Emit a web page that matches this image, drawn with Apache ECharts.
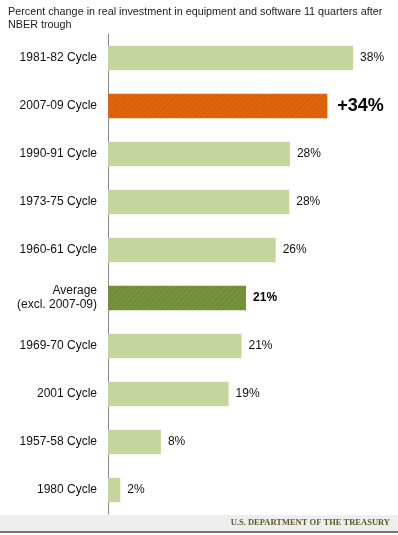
<!DOCTYPE html>
<html>
<head>
<meta charset="utf-8">
<script src="https://cdn.jsdelivr.net/npm/echarts@6/dist/echarts.min.js"></script>
<style>
  html, body { margin: 0; padding: 0; background: #fff; }
  #main { width: 398px; height: 535px; }
</style>
</head>
<body>
<div id="main"></div>
<script>
// data (top to bottom)
var cycles = ['1981-82 Cycle', '2007-09 Cycle', '1990-91 Cycle', '1973-75 Cycle', '1960-61 Cycle',
  'Average\n(excl. 2007-09)', '1969-70 Cycle', '2001 Cycle', '1957-58 Cycle', '1980 Cycle'];
var values = [38.0, 34.0, 28.2, 28.1, 26.0, 21.4, 20.7, 18.7, 8.2, 1.9];
var valueLabels = ['38%', '+34%', '28%', '28%', '26%', '21%', '21%', '19%', '8%', '2%'];

var lightGreen = '#c4d69e';
var orange = '#e0640e';
var darkGreen = '#76923b';

// faint diagonal hatching on the highlighted bars
var hatch = {
  symbol: 'rect',
  dashArrayX: [1, 0],
  dashArrayY: [1, 3],
  rotation: -Math.PI / 4,
  color: 'rgba(0,0,0,0.07)'
};

var chartDom = document.getElementById('main');
var myChart = echarts.init(chartDom);

var barData = values.map(function (v, i) {
  var item = { value: v, itemStyle: { color: lightGreen }, label: {} };
  if (i === 1) {
    item.itemStyle = { color: orange, decal: hatch };
    item.label = { fontSize: 18, fontWeight: 'bold', color: '#000', distance: 10 };
  }
  if (i === 5) {
    item.itemStyle = { color: darkGreen, decal: hatch };
    item.label = { fontWeight: 'bold', color: '#000' };
  }
  return item;
});

var option = {
  animation: false,
  aria: { enabled: false },
  textStyle: { fontFamily: 'Liberation Sans Narrow, Arial Narrow, Liberation Sans, Arial, sans-serif' },
  title: {
    text: 'Percent change in real investment in equipment and software 11 quarters after\nNBER trough',
    left: 3,
    top: 1,
    textStyle: {
      fontFamily: 'Liberation Sans, Arial, sans-serif',
      fontSize: 10.8,
      fontWeight: 'normal',
      color: '#222',
      lineHeight: 13
    }
  },
  graphic: [
    { type: 'rect', left: 0, top: 515, shape: { width: 398, height: 17 }, style: { fill: '#eeeeee' } },
    { type: 'rect', left: 0, top: 531, shape: { width: 398, height: 2 }, style: { fill: '#777' } },
    {
      type: 'text', right: 8, top: 518,
      style: {
        text: 'U.S. DEPARTMENT OF THE TREASURY',
        font: 'bold 8.5px "Liberation Serif", "DejaVu Serif", serif',
        fill: '#5b5a2a'
      }
    }
  ],
  grid: { left: 108, right: 32, top: 34, bottom: 21 },
  xAxis: {
    type: 'value',
    min: 0,
    max: 40,
    show: false
  },
  yAxis: {
    type: 'category',
    inverse: true,
    data: cycles,
    axisLine: { show: true, lineStyle: { color: '#888', width: 1 } },
    axisTick: { show: false },
    axisLabel: {
      margin: 11,
      fontSize: 12,
      color: '#111',
      lineHeight: 14,
      align: 'right'
    }
  },
  series: [
    {
      type: 'bar',
      barWidth: '51%',
      data: barData,
      label: {
        show: true,
        position: 'right',
        distance: 7,
        fontSize: 12,
        color: '#111',
        formatter: function (p) { return valueLabels[p.dataIndex]; }
      }
    }
  ]
};

option && myChart.setOption(option);
</script>
</body>
</html>
